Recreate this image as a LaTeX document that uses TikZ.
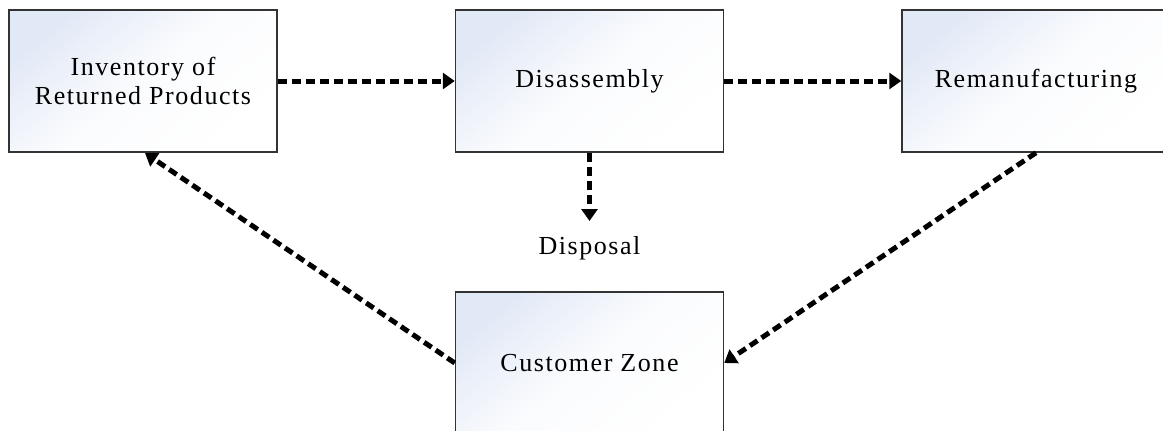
\documentclass[tikz,border=0pt]{standalone}
\usepackage{fontspec}
\setmainfont{Liberation Serif}[LetterSpace=6]
\usetikzlibrary{arrows.meta}
\definecolor{boxtop}{HTML}{E2E9F6}
\tikzset{
  block/.style={draw=black!80, line width=1.5pt, minimum width=268pt, minimum height=142pt,
    inner sep=0pt, align=center, shading=axis, top color=boxtop, bottom color=white,
    middle color=white!85!boxtop, shading angle=40, font=\fontsize{26pt}{29pt}\selectfont},
  flow/.style={line width=5pt, dash pattern=on 9pt off 5pt,
    -{Triangle[width=16pt,length=12pt]}},
  lbl/.style={font=\fontsize{26pt}{29pt}\selectfont}
}
\begin{document}
\begin{tikzpicture}[x=1pt,y=-1pt]
\useasboundingbox (0,0) rectangle (1163,431);
\clip (0,0) rectangle (1163,431);
\node[block] (b1) at (143,81) {Inventory of\\Returned Products};
\node[block] (b2) at (589.5,81) {Disassembly};
\node[block] (b3) at (1036,81) {Remanufacturing};
\node[block] (b4) at (589.5,363) {Customer Zone};
\node[lbl] (disp) at (589.5,248) {Disposal};
\coordinate (dtip) at (589.5,221);
\coordinate (itip) at (145,153);
\draw[flow] (b1.east) -- (b2.west);
\draw[flow] (b2.east) -- (b3.west);
\draw[flow] (b2.south) -- (dtip);
\draw[flow] (b3.south) -- (b4.east);
\draw[flow] (b4.west) -- (itip);
\end{tikzpicture}
\end{document}
